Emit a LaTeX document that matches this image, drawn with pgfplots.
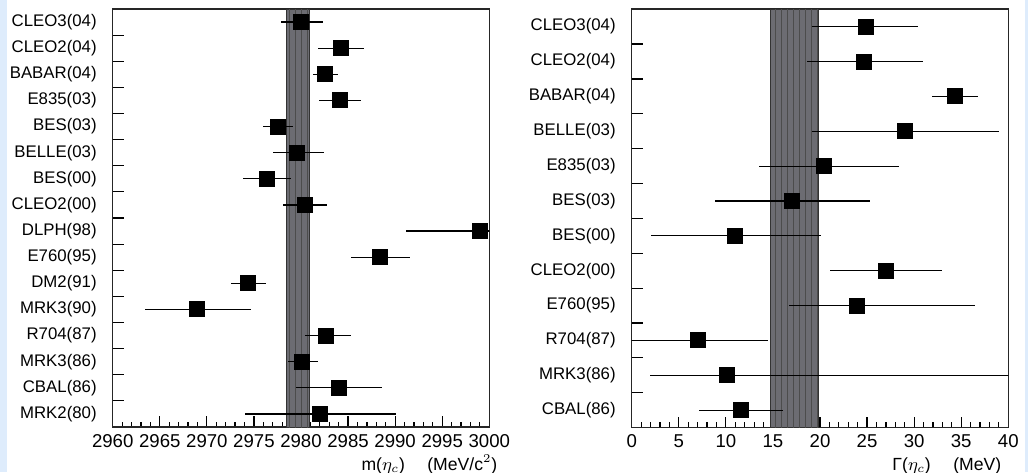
\documentclass[border=0pt]{standalone}
\usepackage{fontspec}
\setmainfont{Liberation Sans}
\usepackage{pgfplots}
\pgfplotsset{compat=1.18}
\usetikzlibrary{patterns}

\definecolor{bgblue}{RGB}{222,236,252}
\definecolor{bandgray}{RGB}{108,108,114}

\pgfplotstableread{
idx x ep em
1 2980.0 2.3 2.1
2 2984.3 2.4 2.5
3 2982.6 1.3 1.3
4 2984.1 2.3 2.2
5 2977.6 1.5 1.6
6 2979.6 2.8 2.6
7 2976.4 2.5 2.6
8 2980.4 2.4 2.3
9 2999.0 8.0 7.9
10 2988.4 3.2 3.1
11 2974.4 1.9 1.8
12 2969.0 5.7 5.6
13 2982.7 2.6 2.3
14 2980.1 1.7 1.5
15 2984.0 4.6 4.5
16 2982.0 8.1 7.9
}\masstab

\pgfplotstableread{
idx x ep em
1 24.85 5.6 5.7
2 24.7 6.2 6.05
3 34.3 2.5 2.4
4 29.0 10.0 9.9
5 20.4 8.0 6.85
6 17.06 8.24 8.2
7 11.0 9.1 9.0
8 27.0 6.0 5.9
9 23.9 12.6 7.15
10 7.0 7.5 7.5
11 10.1 32.0 8.15
12 11.6 4.5 4.5
}\widthtab

\pgfplotsset{
  etaplot/.style={
    scale only axis,
    anchor=south west,
    width=188.3pt,
    y dir=reverse,
    axis line style={line width=0.75pt,black!85},
    tick align=inside,
    xtick pos=bottom, ytick pos=left,
    major tick length=5.4pt,
    minor tick length=2.6pt,
    minor x tick num=4,
    tick style={line width=0.6pt,black},
    xticklabel style={font=\fontsize{9.3}{10}\selectfont},
    /pgf/number format/assume math mode=true,
    /pgf/number format/1000 sep={},
    yticklabels={},
    extra y tick style={tick style={draw=none},
      yticklabel style={xshift=-4.5pt,font=\fontsize{8.4}{10}\selectfont}},
    xlabel style={font=\fontsize{8.8}{10}\selectfont, anchor=base east},
    clip=true,
  },
  pts/.style={black, only marks, mark=square*,
    mark size=3.75pt, mark options={fill=black,draw=black,line width=0pt},
    error bars/.cd, x dir=both, x explicit, error mark=none,
    error bar style={line width=0.6pt,black}},
}

\begin{document}
\begin{tikzpicture}
\fill[bgblue] (0,0) rectangle (514pt,236pt);
\fill[white] (3.5pt,0) rectangle (512.5pt,236pt);
\useasboundingbox (0,0) rectangle (514pt,236pt);

% ---------------- left: mass
\begin{axis}[etaplot,
    at={(56.35pt,22.5pt)}, height=209pt,
    xmin=2960, xmax=3000, ymin=0.5, ymax=16.5,
    xtick={2960,2965,...,3000},
    ytick={1.5,2.5,...,15.5},
    extra y ticks={1,...,16},
    extra y tick labels={CLEO3(04),CLEO2(04),BABAR(04),E835(03),BES(03),BELLE(03),BES(00),CLEO2(00),DLPH(98),E760(95),DM2(91),MRK3(90),R704(87),MRK3(86),CBAL(86),MRK2(80)},
    xlabel={m($\eta_c$)\quad\ (MeV/c$^2$)},
    xlabel style={at={(axis description cs:1.04,0)}, yshift=-21.5pt},
  ]
  \addplot[draw=black!80, line width=0.4pt, fill=bandgray] coordinates
    {(2978.45,0.5)(2980.85,0.5)(2980.85,16.5)(2978.45,16.5)} -- cycle;
  \addplot[draw=none, pattern=vertical lines, pattern color=black!70] coordinates
    {(2978.45,0.5)(2980.85,0.5)(2980.85,16.5)(2978.45,16.5)} -- cycle;
  \addplot[pts] table[x=x, y=idx, x error plus=ep, x error minus=em] {\masstab};
\end{axis}

% ---------------- right: width
\begin{axis}[etaplot,
    at={(315.85pt,22.2pt)}, height=209.2pt,
    xmin=0, xmax=40, ymin=0.5, ymax=12.5,
    xtick={0,5,...,40},
    ytick={1.5,2.5,...,11.5},
    extra y ticks={1,...,12},
    extra y tick labels={CLEO3(04),CLEO2(04),BABAR(04),BELLE(03),E835(03),BES(03),BES(00),CLEO2(00),E760(95),R704(87),MRK3(86),CBAL(86)},
    xlabel={Γ($\eta_c$)\quad\ (MeV)},
    xlabel style={at={(axis description cs:1,0)}, yshift=-21.5pt},
  ]
  \addplot[draw=black!80, line width=0.4pt, fill=bandgray] coordinates
    {(14.75,0.5)(19.85,0.5)(19.85,12.5)(14.75,12.5)} -- cycle;
  \addplot[draw=none, pattern=vertical lines, pattern color=black!70] coordinates
    {(14.75,0.5)(19.85,0.5)(19.85,12.5)(14.75,12.5)} -- cycle;
  \addplot[pts] table[x=x, y=idx, x error plus=ep, x error minus=em] {\widthtab};
\end{axis}
\end{tikzpicture}
\end{document}
